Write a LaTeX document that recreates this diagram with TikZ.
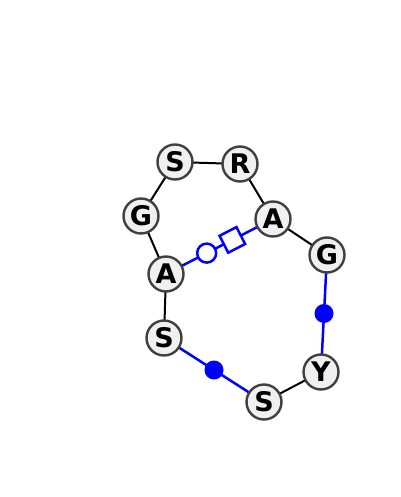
\documentclass[tikz,border=0pt]{standalone}
\usepackage{fontspec}
\setmainfont{DejaVu Sans}
\begin{document}
\begin{tikzpicture}[x=1pt,y=-1pt,
  res/.style={circle,draw=black!75,line width=2.4pt,fill=black!6,minimum size=35pt,inner sep=0pt,font=\fontsize{27}{27}\selectfont\bfseries},
  bond/.style={line width=2pt,black},
  link/.style={line width=2.5pt,blue},
  dot/.style={circle,fill=blue,inner sep=0pt,minimum size=19pt},
  ocirc/.style={circle,draw=blue,line width=2.5pt,fill=white,inner sep=0pt,minimum size=19pt},
  osq/.style={rectangle,draw=blue,line width=2.5pt,fill=white,inner sep=0pt,minimum size=19pt}]
\useasboundingbox (0,0) rectangle (400,497);
\coordinate (pS1) at (175,162);
\coordinate (pR) at (240,164);
\coordinate (pG1) at (141,216);
\coordinate (pA2) at (273,219);
\coordinate (pG2) at (327,255);
\coordinate (pA1) at (166,274);
\coordinate (pS2) at (164,338);
\coordinate (pY) at (321,372);
\coordinate (pS3) at (264,402);
\draw[bond] (pS1) -- (pR);
\draw[bond] (pR) -- (pA2);
\draw[bond] (pS1) -- (pG1);
\draw[bond] (pG1) -- (pA1);
\draw[bond] (pA1) -- (pS2);
\draw[bond] (pA2) -- (pG2);
\draw[bond] (pY) -- (pS3);
\draw[link] (pG2) -- node[dot,pos=0.5]{} (pY);
\draw[link] (pS2) -- node[dot,pos=0.5]{} (pS3);
\draw[link] (pA1) -- node[ocirc,pos=0.38]{} node[osq,pos=0.62,sloped]{} (pA2);
\node[res] (S1) at (pS1) {S};
\node[res] (R) at (pR) {R};
\node[res] (G1) at (pG1) {G};
\node[res] (A2) at (pA2) {A};
\node[res] (G2) at (pG2) {G};
\node[res] (A1) at (pA1) {A};
\node[res] (S2) at (pS2) {S};
\node[res] (Y) at (pY) {Y};
\node[res] (S3) at (pS3) {S};
\end{tikzpicture}
\end{document}
